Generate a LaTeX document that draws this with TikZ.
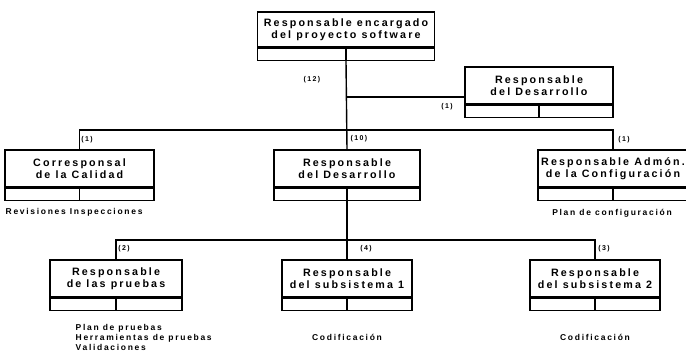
\documentclass[tikz,border=0pt]{standalone}
\usepackage{fontspec}
\setmainfont{Liberation Sans}[LetterSpace=20]
\begin{document}
\begin{tikzpicture}[x=1pt,y=-1pt,
  line width=1.4pt,
  role/.style={draw, line width=1.4pt, minimum height=37pt, inner sep=0pt,
    align=center, font=\fontsize{10.7}{12}\selectfont\bfseries},
  strip/.style={draw, line width=1.4pt, minimum height=12pt, inner sep=0pt, anchor=north},
  count/.style={font=\fontsize{7}{7}\selectfont\bfseries, inner sep=0pt},
  duty/.style={font=\fontsize{8.5}{10}\selectfont\bfseries, inner sep=0pt, align=left}]
\useasboundingbox (0,0) rectangle (686,357);

% --- head of the project
\node[role, minimum width=177pt, minimum height=35pt] (head) at (346,29.5)
  {Responsable encargado\\del proyecto software};
\node[strip, minimum width=177pt] (headS) at (head.south) {};
\draw (headS.north) -- (headS.south);

% --- staff position beside the head
\node[role, minimum width=148pt] (staff) at (539,85.5)
  {Responsable\\del Desarrollo};
\node[strip, minimum width=148pt] (staffS) at (staff.south) {};
\draw (staffS.north) -- (staffS.south);

% --- second level
\node[role, minimum width=149pt] (qual) at (79.5,168.5)
  {Corresponsal\\de la Calidad};
\node[strip, minimum width=149pt] (qualS) at (qual.south) {};
\draw (qualS.north) -- (qualS.south);

\node[role, minimum width=146pt] (dev) at (347,168.5)
  {Responsable\\del Desarrollo};
\node[strip, minimum width=146pt] (devS) at (dev.south) {};
\draw (devS.north) -- (devS.south);

\node[role, minimum width=150pt] (conf) at (613,168.5)
  {Responsable Admón.\\de la Configuración};
\node[strip, minimum width=150pt] (confS) at (conf.south) {};
\draw (confS.north) -- (confS.south);

% --- third level
\node[role, minimum width=132pt] (test) at (116,278.5)
  {Responsable\\de las pruebas};
\node[strip, minimum width=132pt] (testS) at (test.south) {};
\draw (testS.north) -- (testS.south);

\node[role, minimum width=130pt] (subA) at (347,278.5)
  {Responsable\\del subsistema 1};
\node[strip, minimum width=130pt] (subAS) at (subA.south) {};
\draw (subAS.north) -- (subAS.south);

\node[role, minimum width=130pt] (subB) at (595,278.5)
  {Responsable\\del subsistema 2};
\node[strip, minimum width=130pt] (subBS) at (subB.south) {};
\draw (subBS.north) -- (subBS.south);

% --- connectors
\coordinate (tap)  at (346,97);
\coordinate (busA) at (346,130);
\coordinate (busB) at (347,240);
\draw (headS.south) -- (dev.north);
\draw (tap) -- (tap -| staff.west);
\draw (qual.north) |- (busA) -| (conf.north);
\draw (devS.south) -- (subA.north);
\draw (test.north) |- (busB) -| (subB.north);

% --- head counts
\node[count] (n12) at (312,80)  {(12)};
\node[count] (n1s) at (447,107) {(1)};
\node[count] (n1q) at (87,140)  {(1)};
\node[count] (n10) at (359,139) {(10)};
\node[count] (n1c) at (624,140) {(1)};
\node[count] (n2)  at (124,249) {(2)};
\node[count] (n4)  at (366,249) {(4)};
\node[count] (n3)  at (604,249) {(3)};

% --- duties
\node[duty, anchor=west] (dq) at (5,212) {Revisiones Inspecciones};
\node[duty] (dc) at (612,213) {Plan de configuración};
\node[duty, anchor=north west] (dt) at (75,324)
  {Plan de pruebas\\Herramientas de pruebas\\Validaciones};
\node[duty] (da) at (347,337) {Codificación};
\node[duty] (db) at (595,337) {Codificación};
\end{tikzpicture}
\end{document}
